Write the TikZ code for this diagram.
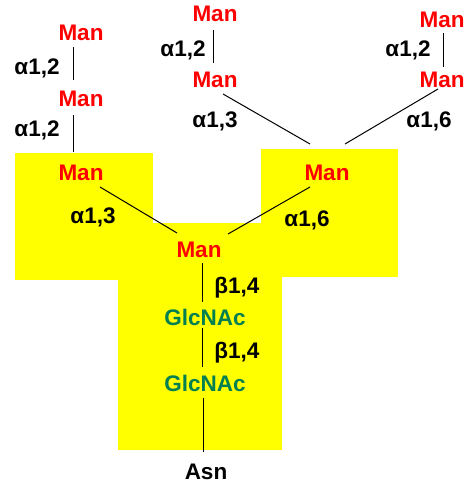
\documentclass[tikz,border=0pt]{standalone}
\usepackage{fontspec}
\setmainfont{Liberation Sans}
\definecolor{manred}{RGB}{255,0,0}
\definecolor{glcgreen}{RGB}{0,128,80}
\definecolor{coreyellow}{RGB}{255,255,0}

\begin{document}
\begin{tikzpicture}[x=1pt,y=-1pt,
  lbl/.style={font=\bfseries\fontsize{22.5}{27}\selectfont, inner sep=0pt, anchor=base},
  man/.style={lbl, text=manred},
  glc/.style={lbl, text=glcgreen},
  bondlabel/.style={lbl, text=black},
  bond/.style={line width=1pt, black}]
\useasboundingbox (0,0) rectangle (467,486);

% trimannosyl core highlight
\fill[coreyellow] (15,153) rectangle (153,280);
\fill[coreyellow] (261,149) rectangle (398,277);
\fill[coreyellow] (118,223) rectangle (282,450);

% sugar residues
\node[man] (mA1) at (81,41) {Man};
\node[man] (mA2) at (81,107) {Man};
\node[man] (mA3) at (81,181) {Man};
\node[man] (mB1) at (215,22) {Man};
\node[man] (mB2) at (215,88) {Man};
\node[man] (mC1) at (442,28) {Man};
\node[man] (mC2) at (442,88) {Man};
\node[man] (mR) at (327,180) {Man};
\node[man] (mCore) at (199,257) {Man};
\node[glc] (g1) at (205,325) {GlcNAc};
\node[glc] (g2) at (205,391) {GlcNAc};
\node[bondlabel] (asn) at (206,479) {Asn};

% linkage labels
\node[bondlabel] (lA1) at (37,75) {α1,2};
\node[bondlabel] (lA2) at (37,137) {α1,2};
\node[bondlabel] (lA3) at (93,223) {α1,3};
\node[bondlabel] (lB1) at (183,57) {α1,2};
\node[bondlabel] (lB2) at (215,128) {α1,3};
\node[bondlabel] (lC1) at (408,57) {α1,2};
\node[bondlabel] (lC2) at (429,128) {α1,6};
\node[bondlabel] (lR) at (307,226) {α1,6};
\node[bondlabel] (lG1) at (237,293) {β1,4};
\node[bondlabel] (lG2) at (237,358) {β1,4};

% bond end points
\coordinate (a1t) at (73,47);  \coordinate (a1b) at (73,80);
\coordinate (a2t) at (73,115); \coordinate (a2b) at (73,152);
\coordinate (b1t) at (213,30); \coordinate (b1b) at (213,63);
\coordinate (c1t) at (443,33); \coordinate (c1b) at (443,67);
\coordinate (b2s) at (223,94); \coordinate (b2e) at (310,144);
\coordinate (c2s) at (438,89); \coordinate (c2e) at (345,144);
\coordinate (a3s) at (100,187); \coordinate (a3e) at (177,233);
\coordinate (rs) at (310,187); \coordinate (re) at (228,234);
\coordinate (k1t) at (202,263); \coordinate (k1b) at (202,302);
\coordinate (k2t) at (202,328); \coordinate (k2b) at (202,367);
\coordinate (k3t) at (203,398); \coordinate (k3b) at (203,452);

% glycosidic bonds
\draw[bond] (a1t) -- (a1b);
\draw[bond] (a2t) -- (a2b);
\draw[bond] (b1t) -- (b1b);
\draw[bond] (c1t) -- (c1b);
\draw[bond] (b2s) -- (b2e);
\draw[bond] (c2s) -- (c2e);
\draw[bond] (a3s) -- (a3e);
\draw[bond] (rs) -- (re);
\draw[bond] (k1t) -- (k1b);
\draw[bond] (k2t) -- (k2b);
\draw[bond] (k3t) -- (k3b);
\end{tikzpicture}
\end{document}
